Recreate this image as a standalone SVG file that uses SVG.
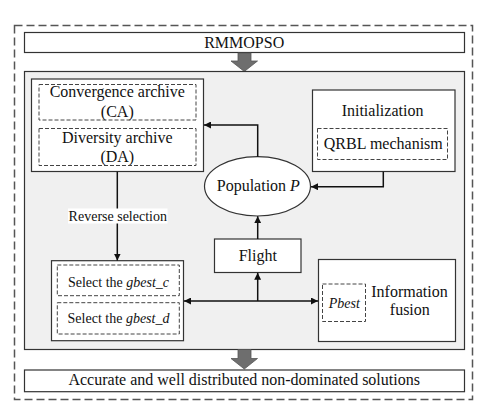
<svg xmlns="http://www.w3.org/2000/svg" width="492" height="412" viewBox="0 0 492 412">
<style>
text{fill:#111;text-anchor:middle;font-family:'Liberation Serif','Times New Roman',serif}
.t{font-size:16px}
.s{font-size:14px}
.box{fill:#fff;stroke:#333;stroke-width:1.2}
.dash{fill:#fff;stroke:#444;stroke-width:1;stroke-dasharray:4 2}
.ln{fill:none;stroke:#111;stroke-width:1.5}
.blk{fill:#6e6e6e;stroke:#555;stroke-width:0.8}
</style>
<defs>
<marker id="ah" viewBox="0 0 10 10" refX="10" refY="5" markerWidth="7" markerHeight="7" markerUnits="userSpaceOnUse" orient="auto-start-reverse">
<path d="M0,0 L10,5 L0,10 z" fill="#111"/>
</marker>
</defs>
<rect x="14.5" y="25.5" width="458" height="374" fill="#fff" stroke="#555" stroke-width="1.5" stroke-dasharray="8 4"/>
<g id="top">
<rect class="box" x="24.5" y="32.5" width="440" height="20"/>
<text class="t" x="244.2" y="48.3">RMMOPSO</text>
</g>
<path class="blk" d="M238,53 H251 V61 H257.5 L244.3,71.5 L231,61 H238 Z"/>
<rect id="panel" x="24.5" y="71.5" width="440" height="278" fill="#f0f0f0" stroke="#333" stroke-width="1.2"/>
<g id="archives">
<rect class="box" x="31.5" y="79" width="172" height="92.5"/>
<rect class="dash" x="39" y="84.5" width="157" height="35.5"/>
<text class="t" x="117.3" y="97.3">Convergence archive</text>
<text class="t" x="117.3" y="116.5">(CA)</text>
<rect class="dash" x="39" y="128.5" width="157" height="37"/>
<text class="t" x="117.3" y="142.7">Diversity archive</text>
<text class="t" x="117.3" y="161.7">(DA)</text>
</g>
<g id="init">
<rect class="box" x="312.5" y="90" width="142.5" height="81.5"/>
<text class="t" x="382.5" y="116">Initialization</text>
<rect class="dash" x="317.5" y="128.5" width="130" height="31"/>
<text class="t" x="383.3" y="149.3">QRBL mechanism</text>
</g>
<g id="population">
<ellipse cx="257.5" cy="186.3" rx="53" ry="29.7" fill="#fff" stroke="#333" stroke-width="1.2"/>
<text class="t" x="258.3" y="191">Population <tspan font-style="italic">P</tspan></text>
</g>
<g id="flight">
<rect class="box" x="214.5" y="239" width="86.5" height="33.5"/>
<text class="t" x="257.8" y="261">Flight</text>
</g>
<g id="select">
<rect class="box" x="51.5" y="260.7" width="132" height="80"/>
<rect class="dash" x="57.3" y="265" width="122" height="30.7"/>
<text class="s" x="118.5" y="286.7">Select the <tspan font-style="italic">gbest_c</tspan></text>
<rect class="dash" x="57.3" y="302.7" width="122" height="31.3"/>
<text class="s" x="118.5" y="323.3">Select the <tspan font-style="italic">gbest_d</tspan></text>
</g>
<g id="fusion">
<rect class="box" x="318.5" y="259.5" width="137" height="82"/>
<rect class="dash" x="322.5" y="284" width="43" height="37.5"/>
<text class="s" x="344.3" y="308.3" font-style="italic">Pbest</text>
<text class="t" x="409.5" y="296.7">Information</text>
<text class="t" x="409.8" y="315">fusion</text>
</g>
<g id="connectors">
<path class="ln" d="M257.7,156.7 V125 H204" marker-end="url(#ah)"/>
<path class="ln" d="M383.3,171.7 V186.7 H311" marker-end="url(#ah)"/>
<path class="ln" d="M117.3,171.7 V260.5" marker-end="url(#ah)"/>
<rect x="68" y="208.5" width="99.5" height="15" fill="#fff"/>
<text class="s" x="117.8" y="220.7">Reverse selection</text>
<path class="ln" d="M257.7,239 V216.2" marker-end="url(#ah)"/>
<path class="ln" d="M184,301 H318" marker-start="url(#ah)" marker-end="url(#ah)"/>
<path class="ln" d="M257.7,301 V272.8" marker-end="url(#ah)"/>
</g>
<path class="blk" d="M238,349.5 H251 V358.5 H257.5 L244.3,369 L231,358.5 H238 Z"/>
<g id="result">
<rect class="box" x="24.5" y="370" width="440" height="21.7"/>
<text class="t" x="244.2" y="385">Accurate and well distributed non-dominated solutions</text>
</g>
</svg>
